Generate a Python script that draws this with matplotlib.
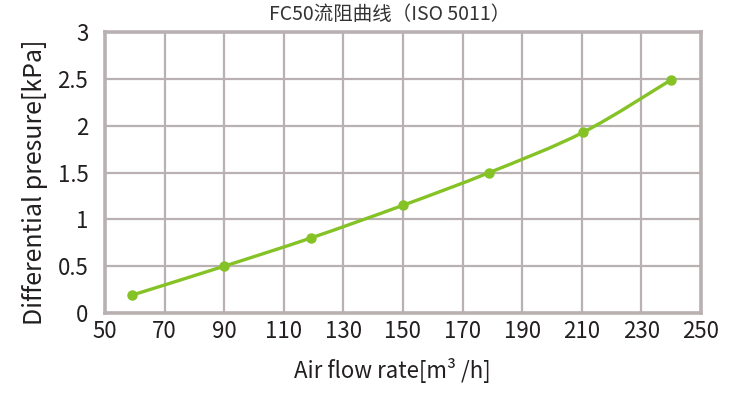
import matplotlib
matplotlib.use("Agg")
import matplotlib.pyplot as plt
from matplotlib.path import Path
from matplotlib.patches import PathPatch
import numpy as np

plt.rcParams['font.family'] = ['Noto Sans CJK SC', 'DejaVu Sans']

# data
flow = [59, 90, 119, 150, 179, 210.5, 240]
pressure = [0.19, 0.5, 0.8, 1.15, 1.5, 1.93, 2.49]
x_ticks = [50, 70, 90, 110, 130, 150, 170, 190, 210, 230, 250]
y_ticks = [0, 0.5, 1, 1.5, 2, 2.5, 3]
y_labels = ['0', '0.5', '1', '1.5', '2', '2.5', '3']

green = '#84c225'
grid_c = '#b9b1b1'
text_c = '#231f20'


def smooth_path(xs, ys):
    # Catmull-Rom through the points, drawn as cubic bezier segments
    pts = np.column_stack([xs, ys])
    verts = [pts[0]]
    codes = [Path.MOVETO]
    n = len(pts)
    for i in range(n - 1):
        p0 = pts[i - 1] if i > 0 else pts[i]
        p1 = pts[i]
        p2 = pts[i + 1]
        p3 = pts[i + 2] if i + 2 < n else pts[i + 1]
        c1 = p1 + (p2 - p0) / 6.0
        c2 = p2 - (p3 - p1) / 6.0
        verts += [c1, c2, p2]
        codes += [Path.CURVE4] * 3
    return Path(verts, codes)


fig = plt.figure(figsize=(7.42, 3.96), dpi=100)
ax = fig.add_axes([105 / 742, 83 / 396, 596 / 742, 281 / 396])

ax.set_xlim(50, 250)
ax.set_ylim(0, 3)
ax.set_xticks(x_ticks)
ax.set_yticks(y_ticks)
ax.set_yticklabels(y_labels)
ax.tick_params(length=0, labelsize=16, colors=text_c)
ax.tick_params(axis='x', pad=5)
ax.tick_params(axis='y', pad=12)
ax.grid(True, color=grid_c, linewidth=1.6)
ax.set_axisbelow(True)
for s in ax.spines.values():
    s.set_color(grid_c)
    s.set_linewidth(2.6)

patch = PathPatch(smooth_path(flow, pressure), facecolor='none',
                  edgecolor=green, linewidth=2.4, zorder=3)
ax.add_patch(patch)
ax.plot(flow, pressure, 'o', color=green, markersize=6.5, zorder=4)

ax.set_xlabel('Air flow rate[m³ /h]', fontsize=16, color=text_c, va='center')
ax.xaxis.set_label_coords(0.483, -0.203)
ax.set_ylabel('Differential presure[kPa]', fontsize=18, color=text_c, va='center')
ax.yaxis.set_label_coords(-0.117, 0.466)
fig.text(390 / 742, 1 - 14 / 396, 'FC50流阻曲线（ISO 5011）', ha='center', va='center',
         fontsize=14, color='#333333')

fig.savefig('out.png', dpi=100)
